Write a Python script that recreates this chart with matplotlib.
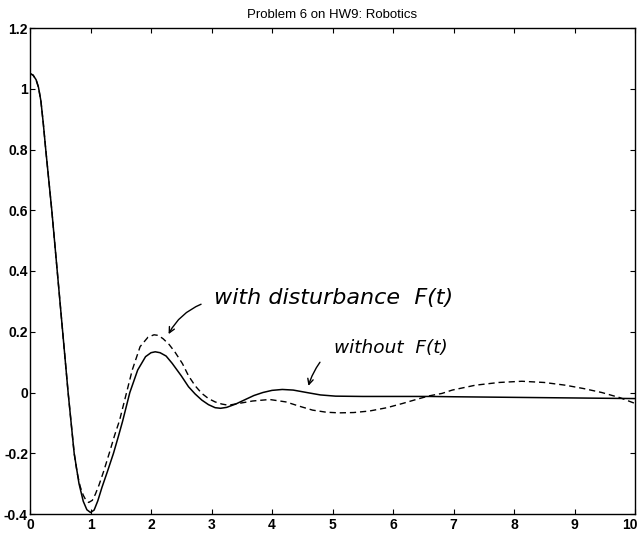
import matplotlib
matplotlib.use("Agg")
import matplotlib.pyplot as plt
from matplotlib.transforms import ScaledTranslation

# --- data ---
t_without = [0.0, 0.05, 0.1, 0.14, 0.18, 0.22, 0.26, 0.36, 0.45, 0.54, 0.63, 0.73,
             0.81, 0.88, 0.94, 1.0, 1.06, 1.12, 1.19, 1.28, 1.38, 1.46, 1.53, 1.65,
             1.78, 1.91, 2.0, 2.07, 2.15, 2.25, 2.35, 2.5, 2.62, 2.73, 2.84, 2.95,
             3.06, 3.15, 3.25, 3.4, 3.55, 3.7, 3.85, 4.0, 4.17, 4.35, 4.6, 4.8,
             5.05, 5.5, 6.0, 6.6, 7.0, 8.0, 9.0, 10.0]
y_without = [1.05, 1.045, 1.03, 1.005, 0.96, 0.885, 0.8, 0.6, 0.4, 0.2, 0.0, -0.2,
             -0.3, -0.358, -0.386, -0.395, -0.387, -0.357, -0.312, -0.26, -0.2, -0.145, -0.095, 0.0,
             0.074, 0.118, 0.131, 0.134, 0.131, 0.12, 0.096, 0.055, 0.019, -0.005, -0.025, -0.04,
             -0.05, -0.052, -0.049, -0.038, -0.024, -0.01, 0.0, 0.007, 0.01, 0.008, -0.001, -0.008,
             -0.012, -0.013, -0.013, -0.013, -0.014, -0.016, -0.018, -0.02]

t_with = [0.0, 0.05, 0.1, 0.14, 0.18, 0.22, 0.26, 0.36, 0.45, 0.54, 0.63, 0.73,
          0.78, 0.83, 0.88, 0.92, 0.97, 1.03, 1.08, 1.14, 1.22, 1.31, 1.4, 1.48,
          1.59, 1.69, 1.82, 1.95, 2.05, 2.12, 2.2, 2.3, 2.4, 2.52, 2.62, 2.73,
          2.84, 2.95, 3.06, 3.17, 3.28, 3.45, 3.68, 3.96, 4.23, 4.45, 4.67, 4.9,
          5.11, 5.35, 5.61, 5.9, 6.16, 6.4, 6.6, 6.81, 6.98, 7.36, 7.75, 8.13,
          8.5, 8.85, 9.15, 9.45, 9.75, 10.0]
y_with = [1.05, 1.045, 1.03, 1.005, 0.96, 0.885, 0.8, 0.6, 0.4, 0.2, 0.0, -0.2,
          -0.265, -0.31, -0.338, -0.353, -0.362, -0.355, -0.335, -0.305, -0.258, -0.2, -0.14, -0.092,
          -0.005, 0.074, 0.151, 0.182, 0.19, 0.188, 0.177, 0.158, 0.132, 0.095, 0.055, 0.022,
          -0.003, -0.02, -0.031, -0.038, -0.042, -0.036, -0.028, -0.023, -0.031, -0.045, -0.058, -0.065,
          -0.067, -0.066, -0.061, -0.05, -0.036, -0.022, -0.011, -0.003, 0.008, 0.024, 0.033, 0.037,
          0.033, 0.024, 0.013, 0.0, -0.017, -0.036]

x_ticks = [0, 1, 2, 3, 4, 5, 6, 7, 8, 9, 10]
y_ticks = [-0.4, -0.2, 0, 0.2, 0.4, 0.6, 0.8, 1, 1.2]
y_tick_labels = ["-0.4", "-0.2", "0", "0.2", "0.4", "0.6", "0.8", "1", "1.2"]
title = "Problem 6 on HW9: Robotics"
note_with = "with disturbance  F(t)"
note_without = "without  F(t)"

fig = plt.figure(figsize=(6.39, 5.35), dpi=100)
ax = fig.add_axes([30 / 639, 21 / 535, 605 / 639, 486 / 535])

ax.plot(t_without, y_without, color="black", lw=1.1, solid_joinstyle="round")
ax.plot(t_with, y_with, color="black", lw=1.0, ls=(0, (4.5, 2.8)))

ax.set_xlim(0, 10)
ax.set_ylim(-0.4, 1.2)
ax.set_xticks(x_ticks)
ax.set_xticklabels([str(v) for v in x_ticks])
ax.set_yticks(y_ticks)
ax.set_yticklabels(y_tick_labels)

ax.tick_params(direction="in", length=3.5, width=0.8, top=True, right=True,
               labelsize=10)
ax.tick_params(axis="x", pad=3)
ax.tick_params(axis="y", pad=1.5)
for lab in ax.get_xticklabels() + ax.get_yticklabels():
    lab.set_fontweight("bold")
    lab.set_family("Liberation Sans")
# keep the last x label inside the figure edge
last = ax.get_xticklabels()[-1]
last.set_transform(last.get_transform() + ScaledTranslation(-5 / 100, 0, fig.dpi_scale_trans))
for sp in ax.spines.values():
    sp.set_linewidth(1.0)

ax.set_title(title, fontsize=9.5, family="Liberation Sans", pad=7)

hand = dict(fontsize=16, style="italic", family="DejaVu Sans", color="black",
            va="center", ha="left")
ax.text(3.04, 0.312, note_with, **hand)
ax.text(5.02, 0.146, note_without, **dict(hand, fontsize=13.3))
ax.annotate("", xy=(2.27, 0.184), xytext=(2.87, 0.294),
            arrowprops=dict(arrowstyle="->", color="black", lw=1.0,
                            connectionstyle="arc3,rad=0.2"))
ax.annotate("", xy=(4.59, 0.013), xytext=(4.82, 0.107),
            arrowprops=dict(arrowstyle="->", color="black", lw=1.0,
                            connectionstyle="arc3,rad=0.1"))

fig.savefig("out.png", dpi=100)
